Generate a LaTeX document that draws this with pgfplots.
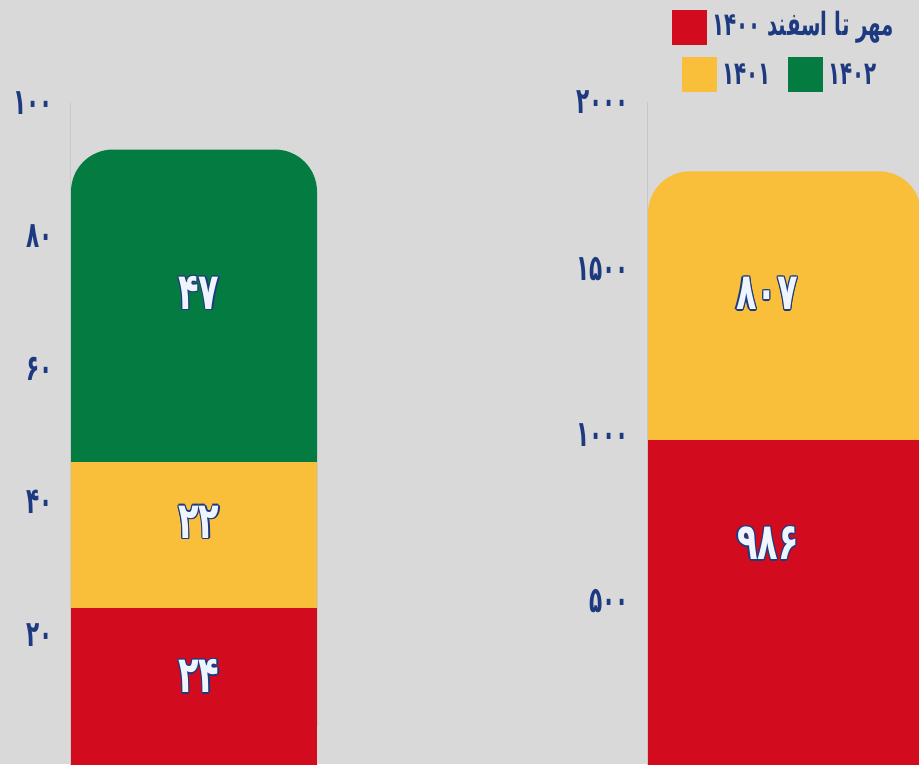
\documentclass[border=0pt]{standalone}
\usepackage{fontspec}
\usepackage{pgfplots}
\pgfplotsset{compat=1.18}
\TeXXeTstate=1
\newfontfamily\fan{DejaVu Sans}[Script=Arabic, FakeStretch=0.66]
\newfontfamily\fat{DejaVu Sans}[Script=Arabic, FakeStretch=0.6]
\newfontfamily\fal{DejaVu Sans}[Script=Arabic, FakeStretch=0.62]

\definecolor{bg}{HTML}{D9D9D9}
\definecolor{cred}{HTML}{D20B1E}
\definecolor{cyel}{HTML}{F9BE3A}
\definecolor{cgrn}{HTML}{037B41}
\definecolor{navy}{HTML}{1D3A80}
\definecolor{lab}{HTML}{EEF5FF}

\tikzset{
  olabo/.style={text=navy, inner sep=0pt, font=\fan\bfseries\fontsize{51}{51}\selectfont},
  olabi/.style={text=lab, inner sep=0pt, font=\fan\bfseries\fontsize{51}{51}\selectfont},
}
% outlined value label inside a bar
\newcommand\olab[3]{%
  \node[olabo, xshift=1.2pt] at (axis cs:#1,#2) {#3};
  \node[olabo, xshift=-1.2pt] at (axis cs:#1,#2) {#3};
  \node[olabo, yshift=1.2pt] at (axis cs:#1,#2) {#3};
  \node[olabo, yshift=-1.2pt] at (axis cs:#1,#2) {#3};
  \node[olabo, xshift=0.9pt, yshift=0.9pt] at (axis cs:#1,#2) {#3};
  \node[olabo, xshift=-0.9pt, yshift=0.9pt] at (axis cs:#1,#2) {#3};
  \node[olabo, xshift=0.9pt, yshift=-0.9pt] at (axis cs:#1,#2) {#3};
  \node[olabo, xshift=-0.9pt, yshift=-0.9pt] at (axis cs:#1,#2) {#3};
  \node[olabi] at (axis cs:#1,#2) {#3};
}

\pgfplotsset{
  panel/.style={
    scale only axis,
    height=665pt,
    ymin=0,
    axis line style={draw=none},
    xtick=\empty,
    major tick length=0pt,
    clip=false,
    yticklabel style={anchor=east, inner sep=0pt, text=navy,
      font=\fat\bfseries\fontsize{36}{36}\selectfont},
  },
}

\begin{document}
\begin{tikzpicture}
\path[use as bounding box] (0pt,0pt) rectangle (919pt,764pt);
\fill[bg] (0pt,0pt) rectangle (919pt,764pt);
\clip (0pt,0pt) rectangle (919pt,764pt);

% left panel: 24 + 22 + 47 (tops drawn as running totals)
\begin{axis}[panel, at={(70pt,-4pt)}, anchor=south west, width=260pt,
    xmin=0, xmax=260, ymax=100,
    ytick={20,40,60,80,100},
    yticklabels={۲۰,۴۰,۶۰,۸۰,۱۰۰},
    yticklabel style={xshift=-17pt}]
  \draw[black!22, line width=0.6pt] (axis cs:0,0) -- (axis cs:0,100);
  \addplot[ybar, bar width=246pt, bar shift=0pt, draw=none, fill=cgrn,
    rounded corners=42pt] coordinates {(124,93)};
  \addplot[ybar, bar width=246pt, bar shift=0pt, draw=none, fill=cyel]
    coordinates {(124,46)};
  \addplot[ybar, bar width=246pt, bar shift=0pt, draw=none, fill=cred]
    coordinates {(124,24)};
  \olab{129}{71.4}{۴۷}
  \olab{129}{37}{۲۲}
  \olab{129}{13.8}{۲۴}
\end{axis}

% right panel: 986 + 807
\begin{axis}[panel, at={(647pt,-3.5pt)}, anchor=south west, width=290pt,
    xmin=0, xmax=290, ymax=2000,
    ytick={500,1000,1500,2000},
    yticklabels={۵۰۰,۱۰۰۰,۱۵۰۰,۲۰۰۰},
    yticklabel style={xshift=-18pt}]
  \draw[black!22, line width=0.6pt] (axis cs:0,0) -- (axis cs:0,2000);
  \addplot[ybar, bar width=273pt, bar shift=0pt, draw=none, fill=cyel,
    rounded corners=42pt] coordinates {(137.5,1793)};
  \addplot[ybar, bar width=273pt, bar shift=0pt, draw=none, fill=cred]
    coordinates {(137.5,986)};
  \olab{120}{1425}{۸۰۷}
  \olab{121}{674}{۹۸۶}
\end{axis}

% legend
\fill[cred] (672pt,719pt) rectangle (707pt,754pt);
\fill[cyel] (682pt,672pt) rectangle (717pt,707pt);
\fill[cgrn] (788pt,672pt) rectangle (823pt,707pt);
\begin{scope}[every node/.style={text=navy, inner sep=0pt,
    font=\fal\bfseries\fontsize{32}{32}\selectfont}]
  \node[anchor=west] at (712pt,737pt) {\beginR مهر تا اسفند \beginL۱۴۰۰\endL\endR};
  \node[anchor=west] at (722pt,690pt) {۱۴۰۱};
  \node[anchor=west] at (828pt,690pt) {۱۴۰۲};
\end{scope}
\end{tikzpicture}
\end{document}
